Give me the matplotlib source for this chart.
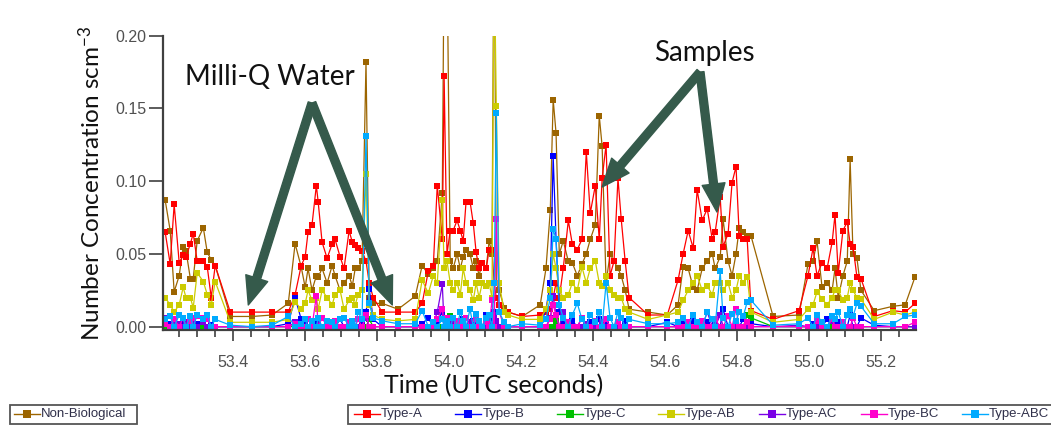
import matplotlib
matplotlib.use("Agg")
import matplotlib.pyplot as plt
from matplotlib.ticker import MultipleLocator, FormatStrFormatter
from matplotlib.lines import Line2D
from matplotlib.patches import Rectangle

plt.rcParams["mathtext.fontset"] = "custom"
plt.rcParams["mathtext.rm"] = "Lato"
plt.rcParams["mathtext.it"] = "Lato:italic"

# sample times, shared by every particle class
utc_time = [
    53.211, 53.225, 53.236, 53.250, 53.261, 53.269, 53.281, 53.289, 53.300, 53.317,
    53.328, 53.339, 53.350, 53.392, 53.453, 53.508, 53.553, 53.572, 53.589, 53.600,
    53.608, 53.619, 53.631, 53.636, 53.647, 53.661, 53.675, 53.683, 53.697, 53.708,
    53.722, 53.731, 53.739, 53.747, 53.758, 53.769, 53.778, 53.789, 53.814, 53.858,
    53.906, 53.925, 53.942, 53.956, 53.967, 53.981, 53.986, 53.994, 54.003, 54.011,
    54.022, 54.031, 54.039, 54.047, 54.058, 54.067, 54.075, 54.083, 54.092, 54.103,
    54.111, 54.119, 54.125, 54.131, 54.139, 54.153, 54.164, 54.203, 54.253, 54.269,
    54.281, 54.289, 54.297, 54.306, 54.317, 54.331, 54.342, 54.356, 54.369, 54.381,
    54.392, 54.406, 54.417, 54.425, 54.436, 54.447, 54.458, 54.469, 54.478, 54.489,
    54.500, 54.553, 54.606, 54.636, 54.650, 54.664, 54.678, 54.689, 54.703, 54.717,
    54.731, 54.739, 54.753, 54.761, 54.775, 54.786, 54.797, 54.806, 54.817, 54.828,
    54.839, 54.900, 54.972, 54.997, 55.011, 55.022, 55.036, 55.050, 55.064, 55.072,
    55.081, 55.094, 55.106, 55.114, 55.122, 55.133, 55.144, 55.181, 55.233, 55.267,
    55.294,
]

non_bio = [
    0.087, 0.066, 0.024, 0.035, 0.055, 0.052, 0.033, 0.033, 0.059, 0.068,
    0.051, 0.046, 0.042, 0.007, 0.007, 0.008, 0.016, 0.057, 0.041, 0.027,
    0.040, 0.025, 0.035, 0.034, 0.040, 0.030, 0.042, 0.035, 0.025, 0.030,
    0.035, 0.028, 0.040, 0.040, 0.045, 0.182, 0.020, 0.016, 0.016, 0.012,
    0.021, 0.042, 0.036, 0.040, 0.045, 0.092, 0.260, 0.260, 0.045, 0.040,
    0.050, 0.040, 0.048, 0.053, 0.050, 0.040, 0.045, 0.035, 0.044, 0.040,
    0.059, 0.050, 0.300, 0.030, 0.025, 0.013, 0.010, 0.007, 0.015, 0.040,
    0.080, 0.156, 0.133, 0.050, 0.059, 0.045, 0.044, 0.035, 0.043, 0.050,
    0.060, 0.070, 0.145, 0.124, 0.030, 0.050, 0.045, 0.040, 0.035, 0.025,
    0.012, 0.010, 0.008, 0.015, 0.041, 0.040, 0.027, 0.025, 0.040, 0.045,
    0.050, 0.040, 0.048, 0.074, 0.045, 0.035, 0.050, 0.068, 0.065, 0.062,
    0.062, 0.007, 0.008, 0.043, 0.045, 0.059, 0.027, 0.030, 0.025, 0.040,
    0.020, 0.035, 0.045, 0.115, 0.050, 0.047, 0.025, 0.011, 0.014, 0.015,
    0.034,
]

type_a = [
    0.065, 0.043, 0.084, 0.044, 0.049, 0.048, 0.057, 0.064, 0.045, 0.045,
    0.041, 0.020, 0.042, 0.010, 0.010, 0.010, 0.010, 0.022, 0.042, 0.048,
    0.065, 0.070, 0.097, 0.086, 0.058, 0.047, 0.057, 0.060, 0.048, 0.040,
    0.066, 0.058, 0.056, 0.054, 0.052, 0.045, 0.030, 0.020, 0.010, 0.010,
    0.010, 0.016, 0.038, 0.042, 0.097, 0.060, 0.172, 0.050, 0.066, 0.066,
    0.073, 0.066, 0.059, 0.086, 0.086, 0.071, 0.051, 0.040, 0.044, 0.040,
    0.053, 0.053, 0.030, 0.020, 0.015, 0.010, 0.010, 0.007, 0.008, 0.010,
    0.012, 0.020, 0.030, 0.020, 0.040, 0.073, 0.057, 0.053, 0.060, 0.120,
    0.078, 0.097, 0.060, 0.102, 0.125, 0.035, 0.045, 0.102, 0.074, 0.045,
    0.020, 0.008, 0.008, 0.032, 0.050, 0.066, 0.054, 0.094, 0.073, 0.081,
    0.060, 0.065, 0.089, 0.055, 0.064, 0.099, 0.110, 0.062, 0.060, 0.060,
    0.011, 0.005, 0.011, 0.035, 0.054, 0.035, 0.044, 0.040, 0.058, 0.077,
    0.037, 0.066, 0.072, 0.057, 0.055, 0.034, 0.033, 0.007, 0.011, 0.010,
    0.016,
]

type_b = [
    0.000, 0.002, 0.001, 0.000, 0.002, 0.000, 0.001, 0.000, 0.002, 0.000,
    0.000, 0.001, 0.000, 0.000, 0.000, 0.000, 0.002, 0.020, 0.005, 0.003,
    0.000, 0.002, 0.000, 0.004, 0.000, 0.003, 0.000, 0.000, 0.005, 0.000,
    0.002, 0.000, 0.000, 0.000, 0.003, 0.010, 0.026, 0.005, 0.000, 0.000,
    0.000, 0.002, 0.006, 0.000, 0.003, 0.010, 0.000, 0.004, 0.002, 0.000,
    0.003, 0.000, 0.005, 0.000, 0.000, 0.004, 0.000, 0.002, 0.000, 0.008,
    0.000, 0.006, 0.010, 0.004, 0.000, 0.000, 0.000, 0.000, 0.000, 0.012,
    0.030, 0.117, 0.060, 0.010, 0.002, 0.000, 0.004, 0.000, 0.006, 0.000,
    0.003, 0.000, 0.005, 0.000, 0.004, 0.000, 0.000, 0.003, 0.000, 0.004,
    0.000, 0.000, 0.003, 0.000, 0.002, 0.000, 0.004, 0.000, 0.000, 0.003,
    0.000, 0.004, 0.000, 0.012, 0.000, 0.000, 0.003, 0.000, 0.005, 0.000,
    0.002, 0.000, 0.000, 0.000, 0.002, 0.000, 0.000, 0.005, 0.000, 0.000,
    0.003, 0.000, 0.000, 0.008, 0.000, 0.000, 0.006, 0.001, 0.000, 0.000,
    0.000,
]

type_c = [
    0.000, 0.000, 0.000, 0.000, 0.000, 0.000, 0.000, 0.000, 0.000, 0.000,
    0.000, 0.000, 0.000, 0.000, 0.000, 0.000, 0.000, 0.000, 0.000, 0.000,
    0.000, 0.000, 0.000, 0.000, 0.000, 0.000, 0.000, 0.000, 0.000, 0.000,
    0.000, 0.000, 0.000, 0.000, 0.000, 0.000, 0.005, 0.000, 0.000, 0.000,
    0.000, 0.000, 0.000, 0.000, 0.000, 0.000, 0.000, 0.000, 0.007, 0.000,
    0.000, 0.000, 0.000, 0.000, 0.000, 0.000, 0.000, 0.000, 0.000, 0.000,
    0.000, 0.000, 0.000, 0.000, 0.000, 0.000, 0.000, 0.000, 0.000, 0.000,
    0.000, 0.000, 0.004, 0.000, 0.000, 0.000, 0.000, 0.000, 0.000, 0.000,
    0.000, 0.000, 0.000, 0.000, 0.000, 0.000, 0.000, 0.000, 0.000, 0.000,
    0.000, 0.000, 0.000, 0.000, 0.000, 0.000, 0.000, 0.000, 0.000, 0.000,
    0.000, 0.000, 0.000, 0.000, 0.000, 0.000, 0.000, 0.000, 0.000, 0.008,
    0.006, 0.000, 0.000, 0.000, 0.000, 0.000, 0.000, 0.000, 0.000, 0.000,
    0.000, 0.000, 0.000, 0.000, 0.000, 0.000, 0.000, 0.000, 0.000, 0.000,
    0.000,
]

type_ab = [
    0.020, 0.015, 0.010, 0.015, 0.027, 0.020, 0.020, 0.013, 0.037, 0.031,
    0.022, 0.015, 0.031, 0.003, 0.003, 0.003, 0.005, 0.017, 0.012, 0.016,
    0.025, 0.018, 0.020, 0.012, 0.025, 0.020, 0.015, 0.022, 0.025, 0.012,
    0.018, 0.020, 0.015, 0.022, 0.025, 0.105, 0.015, 0.008, 0.005, 0.004,
    0.005, 0.032, 0.023, 0.035, 0.030, 0.087, 0.040, 0.045, 0.030, 0.025,
    0.030, 0.022, 0.040, 0.030, 0.025, 0.018, 0.030, 0.020, 0.030, 0.028,
    0.030, 0.020, 0.260, 0.152, 0.030, 0.010, 0.008, 0.005, 0.005, 0.012,
    0.025, 0.050, 0.040, 0.025, 0.020, 0.022, 0.030, 0.025, 0.041, 0.030,
    0.040, 0.045, 0.030, 0.028, 0.035, 0.025, 0.022, 0.020, 0.020, 0.012,
    0.010, 0.005, 0.008, 0.010, 0.018, 0.025, 0.030, 0.035, 0.025, 0.028,
    0.022, 0.030, 0.030, 0.025, 0.030, 0.020, 0.025, 0.035, 0.030, 0.034,
    0.010, 0.003, 0.005, 0.012, 0.015, 0.024, 0.019, 0.015, 0.020, 0.025,
    0.025, 0.018, 0.020, 0.030, 0.025, 0.020, 0.019, 0.005, 0.010, 0.008,
    0.010,
]

type_ac = [
    0.006, 0.007, 0.004, 0.002, 0.000, 0.003, 0.000, 0.002, 0.000, 0.003,
    0.000, 0.000, 0.000, 0.000, 0.000, 0.000, 0.000, 0.003, 0.000, 0.000,
    0.000, 0.000, 0.000, 0.000, 0.000, 0.002, 0.000, 0.000, 0.000, 0.000,
    0.000, 0.000, 0.000, 0.000, 0.000, 0.006, 0.000, 0.000, 0.000, 0.000,
    0.000, 0.000, 0.000, 0.002, 0.010, 0.029, 0.000, 0.005, 0.000, 0.004,
    0.000, 0.000, 0.000, 0.000, 0.003, 0.000, 0.000, 0.000, 0.000, 0.000,
    0.002, 0.000, 0.008, 0.004, 0.000, 0.000, 0.000, 0.000, 0.000, 0.000,
    0.006, 0.021, 0.008, 0.000, 0.010, 0.000, 0.000, 0.000, 0.000, 0.002,
    0.000, 0.000, 0.000, 0.003, 0.000, 0.000, 0.000, 0.000, 0.000, 0.000,
    0.000, 0.000, 0.000, 0.000, 0.000, 0.000, 0.000, 0.000, 0.000, 0.010,
    0.000, 0.000, 0.008, 0.000, 0.000, 0.000, 0.000, 0.000, 0.000, 0.000,
    0.000, 0.000, 0.001, 0.000, 0.000, 0.000, 0.000, 0.000, 0.004, 0.000,
    0.000, 0.000, 0.000, 0.000, 0.000, 0.000, 0.000, 0.000, 0.000, 0.000,
    0.000,
]

type_bc = [
    0.002, 0.000, 0.005, 0.000, 0.006, 0.000, 0.004, 0.006, 0.007, 0.006,
    0.005, 0.000, 0.000, 0.000, 0.000, 0.000, 0.000, 0.002, 0.000, 0.000,
    0.005, 0.000, 0.021, 0.000, 0.006, 0.000, 0.000, 0.004, 0.000, 0.000,
    0.003, 0.000, 0.000, 0.005, 0.000, 0.008, 0.000, 0.000, 0.000, 0.000,
    0.000, 0.000, 0.000, 0.000, 0.005, 0.012, 0.000, 0.006, 0.000, 0.000,
    0.004, 0.000, 0.000, 0.006, 0.000, 0.000, 0.005, 0.000, 0.000, 0.003,
    0.000, 0.018, 0.000, 0.074, 0.010, 0.000, 0.000, 0.000, 0.000, 0.000,
    0.005, 0.015, 0.008, 0.000, 0.000, 0.003, 0.000, 0.000, 0.006, 0.000,
    0.000, 0.004, 0.000, 0.000, 0.005, 0.000, 0.000, 0.003, 0.000, 0.000,
    0.000, 0.000, 0.000, 0.000, 0.000, 0.003, 0.000, 0.000, 0.004, 0.000,
    0.000, 0.005, 0.000, 0.000, 0.007, 0.000, 0.012, 0.000, 0.000, 0.003,
    0.000, 0.000, 0.000, 0.000, 0.000, 0.004, 0.000, 0.000, 0.005, 0.000,
    0.000, 0.003, 0.000, 0.000, 0.006, 0.000, 0.000, 0.000, 0.000, 0.000,
    0.003,
]

type_abc = [
    0.005, 0.007, 0.000, 0.008, 0.006, 0.000, 0.007, 0.000, 0.008, 0.005,
    0.008, 0.000, 0.005, 0.001, 0.000, 0.001, 0.007, 0.000, 0.002, 0.005,
    0.000, 0.004, 0.000, 0.006, 0.000, 0.004, 0.003, 0.000, 0.005, 0.006,
    0.000, 0.004, 0.000, 0.010, 0.005, 0.131, 0.016, 0.006, 0.004, 0.002,
    0.002, 0.011, 0.000, 0.003, 0.000, 0.005, 0.000, 0.004, 0.000, 0.006,
    0.000, 0.010, 0.004, 0.000, 0.012, 0.000, 0.009, 0.004, 0.000, 0.006,
    0.008, 0.000, 0.030, 0.147, 0.010, 0.003, 0.000, 0.002, 0.001, 0.005,
    0.020, 0.067, 0.060, 0.015, 0.006, 0.000, 0.008, 0.016, 0.005, 0.000,
    0.008, 0.003, 0.010, 0.000, 0.030, 0.006, 0.000, 0.010, 0.006, 0.000,
    0.005, 0.002, 0.002, 0.003, 0.006, 0.000, 0.008, 0.003, 0.000, 0.010,
    0.005, 0.000, 0.038, 0.006, 0.000, 0.009, 0.004, 0.010, 0.007, 0.017,
    0.018, 0.001, 0.002, 0.006, 0.000, 0.008, 0.003, 0.000, 0.007, 0.005,
    0.010, 0.000, 0.008, 0.012, 0.007, 0.016, 0.014, 0.002, 0.002, 0.007,
    0.008,
]

series_labels = ["Non-Biological", "Type-A", "Type-B", "Type-C", "Type-AB",
                 "Type-AC", "Type-BC", "Type-ABC"]
series_values = [non_bio, type_a, type_b, type_c, type_ab, type_ac, type_bc, type_abc]
series_colors = ["#9C6500", "#FF0000", "#0000FF", "#00C000", "#CCCC00",
                 "#7A00E6", "#FF00CC", "#00AAFF"]

W, H = 1051, 425
fig = plt.figure(figsize=(W / 100, H / 100), dpi=100)
ax = fig.add_axes([163 / W, 1 - 330 / H, (916 - 163) / W, (330 - 35.7) / H])

for vals, col in zip(series_values, series_colors):
    ax.plot(utc_time, vals, color=col, lw=0.9, marker="s", markersize=4.5,
            markeredgewidth=0)

ax.set_xlim(53.205, 55.297)
ax.set_ylim(-0.0023, 0.20)

# axes styling: only left and bottom spines, ticks pointing out
for side in ["top", "right"]:
    ax.spines[side].set_visible(False)
for side in ["left", "bottom"]:
    ax.spines[side].set_linewidth(1.6)
    ax.spines[side].set_color("#404040")

ax.xaxis.set_major_locator(MultipleLocator(0.2))
ax.xaxis.set_minor_locator(MultipleLocator(0.05))
ax.xaxis.set_major_formatter(FormatStrFormatter("%.1f"))
ax.yaxis.set_major_locator(MultipleLocator(0.05))
ax.yaxis.set_major_formatter(FormatStrFormatter("%.2f"))

ax.tick_params(axis="both", which="major", direction="out", color="#404040",
               width=1.2, labelcolor="#505050", labelsize=11.5)
ax.tick_params(axis="x", which="major", length=8, pad=10)
ax.tick_params(axis="x", which="minor", direction="out", length=5, width=1.2,
               color="#404040")
ax.tick_params(axis="y", which="major", length=10, pad=2)
for lbl in ax.get_xticklabels() + ax.get_yticklabels():
    lbl.set_fontfamily("Liberation Sans")

# x title sits left of the axes centre
fig.text(494 / W, 1 - 386 / H, "Time (UTC seconds)", family="Lato", fontsize=18,
         ha="center", va="center", color="#111111")
ax.set_ylabel("Number Concentration scm$^{-3}$", family="Lato", fontsize=17.5,
              labelpad=8, color="#111111")

# annotation arrows
arrow_col = "#355A4B"
arrow_style = "simple,tail_width=0.38,head_width=1.1,head_length=1.35"


def big_arrow(tip, tail):
    ax.annotate("", xy=tip, xytext=tail, zorder=10,
                arrowprops=dict(arrowstyle=arrow_style, color=arrow_col,
                                mutation_scale=15, shrinkA=0, shrinkB=0))


ax.text(53.503, 0.1715, "Milli-Q Water", family="Lato", fontsize=20,
        ha="center", va="center", color="#111111", zorder=11)
big_arrow((53.442, 0.0149), (53.619, 0.1537))
big_arrow((53.842, 0.0149), (53.619, 0.1537))

ax.text(54.708, 0.188, "Samples", family="Lato", fontsize=20,
        ha="center", va="center", color="#111111", zorder=11)
big_arrow((54.425, 0.096), (54.697, 0.175))
big_arrow((54.744, 0.0788), (54.697, 0.175))


# legends drawn as boxed rows along the bottom edge
def px(x, y):
    return x / W, 1 - y / H


def legend_box(x0, x1, y0, y1):
    (fx0, fy1), (fx1, fy0) = px(x0, y0), px(x1, y1)
    fig.add_artist(Rectangle((fx0, fy0), fx1 - fx0, fy1 - fy0,
                             transform=fig.transFigure, facecolor="white",
                             edgecolor="#555555", lw=1.3))


def legend_entry(x, y, label, col):
    (a, yy), (b, _) = px(x, y), px(x + 26, y)
    fig.add_artist(Line2D([a, b], [yy, yy], transform=fig.transFigure,
                          color=col, lw=1.0))
    fig.add_artist(Line2D([(a + b) / 2], [yy], transform=fig.transFigure,
                          color=col, marker="s", markersize=5.5,
                          markeredgewidth=0))
    tx, ty = px(x + 27, y)
    fig.text(tx, ty, label, family="Liberation Sans", fontsize=9.5,
             color="#30304A", ha="left", va="center")


legend_box(10, 137, 405, 424)
legend_entry(14, 414, series_labels[0], series_colors[0])

legend_box(348, 1070, 405, 424)
for i in range(1, len(series_labels)):
    legend_entry(354 + (i - 1) * 101.3, 414, series_labels[i], series_colors[i])

fig.savefig("out.png", dpi=100)
